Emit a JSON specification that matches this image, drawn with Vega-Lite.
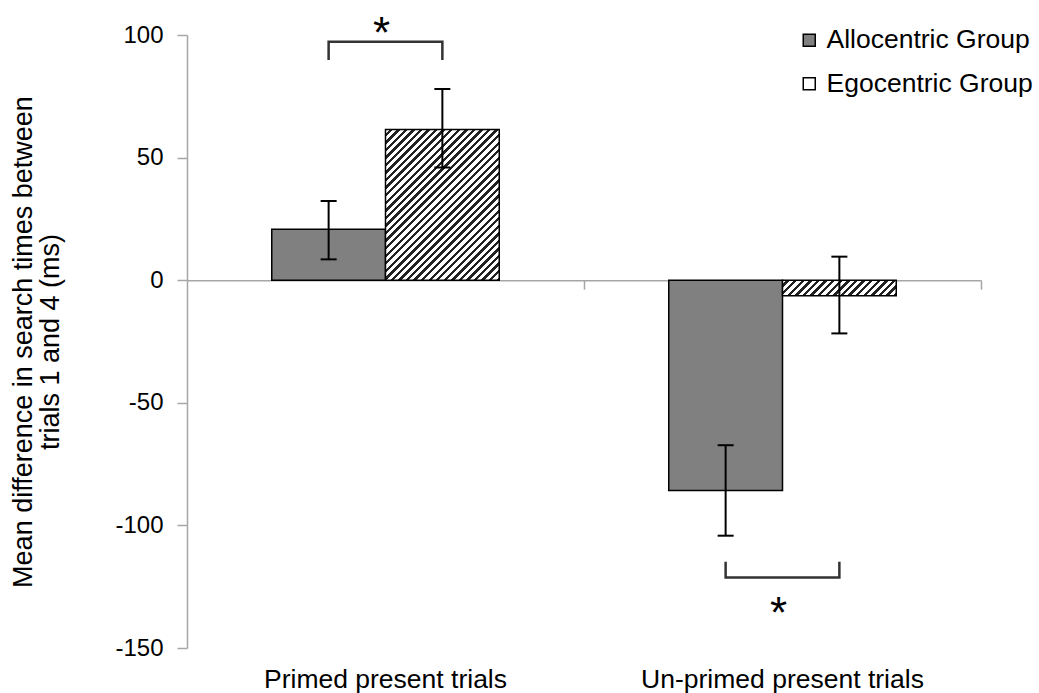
{
 "$schema": "https://vega.github.io/schema/vega-lite/v6.json",
 "width": 794,
 "height": 613,
 "autosize": {"type": "none"},
 "padding": {"left": 187, "top": 35, "right": 58, "bottom": 45},
 "background": "white",
 "config": {
  "view": {"stroke": null},
  "font": "Liberation Sans",
  "axis": {"grid": false, "domainColor": "#a6a6a6", "tickColor": "#a6a6a6", "labelColor": "black", "labelFont": "Liberation Sans", "titleFont": "Liberation Sans", "labelLimit": 0}
 },
 "datasets": {
  "bars": [
   {"cat": "Primed present trials", "group": "Allocentric Group", "mean": 20.8, "lo": 8.5, "hi": 32.3},
   {"cat": "Primed present trials", "group": "Egocentric Group", "mean": 61.5, "lo": 46.0, "hi": 78.0},
   {"cat": "Un-primed present trials", "group": "Allocentric Group", "mean": -85.8, "lo": -104.2, "hi": -67.3},
   {"cat": "Un-primed present trials", "group": "Egocentric Group", "mean": -6.3, "lo": -21.7, "hi": 9.6}
  ],
  "brackets": [
   {"cat": "Primed present trials", "group": "Allocentric Group", "value": 89.8, "order": 1},
   {"cat": "Primed present trials", "group": "Allocentric Group", "value": 97.2, "order": 2},
   {"cat": "Primed present trials", "group": "Egocentric Group", "value": 97.2, "order": 3},
   {"cat": "Primed present trials", "group": "Egocentric Group", "value": 89.8, "order": 4},
   {"cat": "Un-primed present trials", "group": "Allocentric Group", "value": -114.8, "order": 1},
   {"cat": "Un-primed present trials", "group": "Allocentric Group", "value": -121.2, "order": 2},
   {"cat": "Un-primed present trials", "group": "Egocentric Group", "value": -121.2, "order": 3},
   {"cat": "Un-primed present trials", "group": "Egocentric Group", "value": -114.8, "order": 4}
  ],
  "stars": [
   {"cat": "Primed present trials", "value": 104.8, "label": "*"},
   {"cat": "Un-primed present trials", "value": -131.8, "label": "*"}
  ]
 },
 "layer": [
  {
   "data": {"name": "bars"},
   "transform": [{"filter": "datum.group == 'Allocentric Group'"}],
   "mark": {"type": "bar", "stroke": "black", "strokeWidth": 1.5},
   "encoding": {
    "x": {"field": "cat", "type": "nominal",
     "scale": {"domain": ["Primed present trials", "Un-primed present trials"], "paddingInner": 0.427, "paddingOuter": 0.2135},
     "axis": {"orient": "bottom", "offset": -367.8, "labels": false, "title": null, "bandPosition": 1, "tickOffset": 84.75, "tickSize": 9, "domainWidth": 1.5, "tickWidth": 1.5}},
    "xOffset": {"field": "group", "type": "nominal", "scale": {"domain": ["Allocentric Group", "Egocentric Group"]}},
    "y": {"field": "mean", "type": "quantitative",
     "scale": {"domain": [-150, 100], "nice": false},
     "axis": {"orient": "left", "values": [-150, -100, -50, 0, 50, 100], "labelExpr": "toString(datum.value)", "tickSize": 10, "labelFontSize": 24, "labelPadding": 14, "domainWidth": 1.5, "tickWidth": 1.5,
      "title": ["Mean difference in search times between", "trials 1 and 4 (ms)"], "titleFontSize": 27, "titleFontWeight": "normal", "titleColor": "black", "titleLineHeight": 27, "titlePadding": 50}},
    "fill": {"field": "group", "type": "nominal",
     "scale": {"domain": ["Allocentric Group", "Egocentric Group"], "range": ["#808080", "#ffffff"]},
     "legend": {"title": null, "orient": "none", "legendX": 609, "legendY": -8, "symbolType": "square", "symbolSize": 144, "symbolStrokeColor": "black", "symbolStrokeWidth": 1.5, "labelFontSize": 26.5, "labelColor": "black", "labelFont": "Liberation Sans", "labelOffset": 4, "labelLimit": 0, "rowPadding": 16.5, "padding": 0,
      "encode": {"symbols": {"update": {
       "stroke": {"value": "black"},
       "strokeWidth": {"value": 1.5},
       "fill": {"signal": "datum.value === 'Egocentric Group' ? {gradient: 'linear', x1: 0, y1: 0, x2: 1, y2: 1, stops: [{offset: 0, color: '#fff'}, {offset: 0.38, color: '#fff'}, {offset: 0.38, color: '#222'}, {offset: 0.62, color: '#222'}, {offset: 0.62, color: '#fff'}, {offset: 1, color: '#fff'}]} : '#808080'"}}}}}}
   }
  },
  {
   "data": {"name": "bars"},
   "transform": [{"filter": "datum.group == 'Egocentric Group' && datum.cat == 'Primed present trials'"}],
   "mark": {"type": "bar", "stroke": "black", "strokeWidth": 1.5,
    "fill": {"gradient": "linear", "x1": 0, "y1": 0, "x2": 0.8434, "y2": 1.1182, "stops": [
     {"offset":0,"color":"#fff"},{"offset":0.0157,"color":"#fff"},{"offset":0.0157,"color":"#222"},{"offset":0.0286,"color":"#222"},
     {"offset":0.0286,"color":"#fff"},{"offset":0.0443,"color":"#fff"},{"offset":0.0443,"color":"#222"},{"offset":0.0571,"color":"#222"},
     {"offset":0.0571,"color":"#fff"},{"offset":0.0729,"color":"#fff"},{"offset":0.0729,"color":"#222"},{"offset":0.0857,"color":"#222"},
     {"offset":0.0857,"color":"#fff"},{"offset":0.1014,"color":"#fff"},{"offset":0.1014,"color":"#222"},{"offset":0.1143,"color":"#222"},
     {"offset":0.1143,"color":"#fff"},{"offset":0.13,"color":"#fff"},{"offset":0.13,"color":"#222"},{"offset":0.1429,"color":"#222"},
     {"offset":0.1429,"color":"#fff"},{"offset":0.1586,"color":"#fff"},{"offset":0.1586,"color":"#222"},{"offset":0.1714,"color":"#222"},
     {"offset":0.1714,"color":"#fff"},{"offset":0.1871,"color":"#fff"},{"offset":0.1871,"color":"#222"},{"offset":0.2,"color":"#222"},
     {"offset":0.2,"color":"#fff"},{"offset":0.2157,"color":"#fff"},{"offset":0.2157,"color":"#222"},{"offset":0.2286,"color":"#222"},
     {"offset":0.2286,"color":"#fff"},{"offset":0.2443,"color":"#fff"},{"offset":0.2443,"color":"#222"},{"offset":0.2571,"color":"#222"},
     {"offset":0.2571,"color":"#fff"},{"offset":0.2729,"color":"#fff"},{"offset":0.2729,"color":"#222"},{"offset":0.2857,"color":"#222"},
     {"offset":0.2857,"color":"#fff"},{"offset":0.3014,"color":"#fff"},{"offset":0.3014,"color":"#222"},{"offset":0.3143,"color":"#222"},
     {"offset":0.3143,"color":"#fff"},{"offset":0.33,"color":"#fff"},{"offset":0.33,"color":"#222"},{"offset":0.3429,"color":"#222"},
     {"offset":0.3429,"color":"#fff"},{"offset":0.3586,"color":"#fff"},{"offset":0.3586,"color":"#222"},{"offset":0.3714,"color":"#222"},
     {"offset":0.3714,"color":"#fff"},{"offset":0.3871,"color":"#fff"},{"offset":0.3871,"color":"#222"},{"offset":0.4,"color":"#222"},
     {"offset":0.4,"color":"#fff"},{"offset":0.4157,"color":"#fff"},{"offset":0.4157,"color":"#222"},{"offset":0.4286,"color":"#222"},
     {"offset":0.4286,"color":"#fff"},{"offset":0.4443,"color":"#fff"},{"offset":0.4443,"color":"#222"},{"offset":0.4571,"color":"#222"},
     {"offset":0.4571,"color":"#fff"},{"offset":0.4729,"color":"#fff"},{"offset":0.4729,"color":"#222"},{"offset":0.4857,"color":"#222"},
     {"offset":0.4857,"color":"#fff"},{"offset":0.5014,"color":"#fff"},{"offset":0.5014,"color":"#222"},{"offset":0.5143,"color":"#222"},
     {"offset":0.5143,"color":"#fff"},{"offset":0.53,"color":"#fff"},{"offset":0.53,"color":"#222"},{"offset":0.5429,"color":"#222"},
     {"offset":0.5429,"color":"#fff"},{"offset":0.5586,"color":"#fff"},{"offset":0.5586,"color":"#222"},{"offset":0.5714,"color":"#222"},
     {"offset":0.5714,"color":"#fff"},{"offset":0.5871,"color":"#fff"},{"offset":0.5871,"color":"#222"},{"offset":0.6,"color":"#222"},
     {"offset":0.6,"color":"#fff"},{"offset":0.6157,"color":"#fff"},{"offset":0.6157,"color":"#222"},{"offset":0.6286,"color":"#222"},
     {"offset":0.6286,"color":"#fff"},{"offset":0.6443,"color":"#fff"},{"offset":0.6443,"color":"#222"},{"offset":0.6571,"color":"#222"},
     {"offset":0.6571,"color":"#fff"},{"offset":0.6729,"color":"#fff"},{"offset":0.6729,"color":"#222"},{"offset":0.6857,"color":"#222"},
     {"offset":0.6857,"color":"#fff"},{"offset":0.7014,"color":"#fff"},{"offset":0.7014,"color":"#222"},{"offset":0.7143,"color":"#222"},
     {"offset":0.7143,"color":"#fff"},{"offset":0.73,"color":"#fff"},{"offset":0.73,"color":"#222"},{"offset":0.7429,"color":"#222"},
     {"offset":0.7429,"color":"#fff"},{"offset":0.7586,"color":"#fff"},{"offset":0.7586,"color":"#222"},{"offset":0.7714,"color":"#222"},
     {"offset":0.7714,"color":"#fff"},{"offset":0.7871,"color":"#fff"},{"offset":0.7871,"color":"#222"},{"offset":0.8,"color":"#222"},
     {"offset":0.8,"color":"#fff"},{"offset":0.8157,"color":"#fff"},{"offset":0.8157,"color":"#222"},{"offset":0.8286,"color":"#222"},
     {"offset":0.8286,"color":"#fff"},{"offset":0.8443,"color":"#fff"},{"offset":0.8443,"color":"#222"},{"offset":0.8571,"color":"#222"},
     {"offset":0.8571,"color":"#fff"},{"offset":0.8729,"color":"#fff"},{"offset":0.8729,"color":"#222"},{"offset":0.8857,"color":"#222"},
     {"offset":0.8857,"color":"#fff"},{"offset":0.9014,"color":"#fff"},{"offset":0.9014,"color":"#222"},{"offset":0.9143,"color":"#222"},
     {"offset":0.9143,"color":"#fff"},{"offset":0.93,"color":"#fff"},{"offset":0.93,"color":"#222"},{"offset":0.9429,"color":"#222"},
     {"offset":0.9429,"color":"#fff"},{"offset":0.9586,"color":"#fff"},{"offset":0.9586,"color":"#222"},{"offset":0.9714,"color":"#222"},
     {"offset":0.9714,"color":"#fff"},{"offset":0.9871,"color":"#fff"},{"offset":0.9871,"color":"#222"},{"offset":1,"color":"#222"}
    ]}},
   "encoding": {
    "x": {"field": "cat", "type": "nominal", "axis": null},
    "xOffset": {"field": "group", "type": "nominal"},
    "y": {"field": "mean", "type": "quantitative"}
   }
  },
  {
   "data": {"name": "bars"},
   "transform": [{"filter": "datum.group == 'Egocentric Group' && datum.cat == 'Un-primed present trials'"}],
   "mark": {"type": "bar", "stroke": "black", "strokeWidth": 1.5,
    "fill": {"gradient": "linear", "x1": 0, "y1": 0, "x2": 1.1152, "y2": 0.1515, "stops": [
     {"offset":0,"color":"#fff"},{"offset":0.0324,"color":"#fff"},{"offset":0.0324,"color":"#222"},{"offset":0.0588,"color":"#222"},
     {"offset":0.0588,"color":"#fff"},{"offset":0.0912,"color":"#fff"},{"offset":0.0912,"color":"#222"},{"offset":0.1176,"color":"#222"},
     {"offset":0.1176,"color":"#fff"},{"offset":0.15,"color":"#fff"},{"offset":0.15,"color":"#222"},{"offset":0.1765,"color":"#222"},
     {"offset":0.1765,"color":"#fff"},{"offset":0.2088,"color":"#fff"},{"offset":0.2088,"color":"#222"},{"offset":0.2353,"color":"#222"},
     {"offset":0.2353,"color":"#fff"},{"offset":0.2676,"color":"#fff"},{"offset":0.2676,"color":"#222"},{"offset":0.2941,"color":"#222"},
     {"offset":0.2941,"color":"#fff"},{"offset":0.3265,"color":"#fff"},{"offset":0.3265,"color":"#222"},{"offset":0.3529,"color":"#222"},
     {"offset":0.3529,"color":"#fff"},{"offset":0.3853,"color":"#fff"},{"offset":0.3853,"color":"#222"},{"offset":0.4118,"color":"#222"},
     {"offset":0.4118,"color":"#fff"},{"offset":0.4441,"color":"#fff"},{"offset":0.4441,"color":"#222"},{"offset":0.4706,"color":"#222"},
     {"offset":0.4706,"color":"#fff"},{"offset":0.5029,"color":"#fff"},{"offset":0.5029,"color":"#222"},{"offset":0.5294,"color":"#222"},
     {"offset":0.5294,"color":"#fff"},{"offset":0.5618,"color":"#fff"},{"offset":0.5618,"color":"#222"},{"offset":0.5882,"color":"#222"},
     {"offset":0.5882,"color":"#fff"},{"offset":0.6206,"color":"#fff"},{"offset":0.6206,"color":"#222"},{"offset":0.6471,"color":"#222"},
     {"offset":0.6471,"color":"#fff"},{"offset":0.6794,"color":"#fff"},{"offset":0.6794,"color":"#222"},{"offset":0.7059,"color":"#222"},
     {"offset":0.7059,"color":"#fff"},{"offset":0.7382,"color":"#fff"},{"offset":0.7382,"color":"#222"},{"offset":0.7647,"color":"#222"},
     {"offset":0.7647,"color":"#fff"},{"offset":0.7971,"color":"#fff"},{"offset":0.7971,"color":"#222"},{"offset":0.8235,"color":"#222"},
     {"offset":0.8235,"color":"#fff"},{"offset":0.8559,"color":"#fff"},{"offset":0.8559,"color":"#222"},{"offset":0.8824,"color":"#222"},
     {"offset":0.8824,"color":"#fff"},{"offset":0.9147,"color":"#fff"},{"offset":0.9147,"color":"#222"},{"offset":0.9412,"color":"#222"},
     {"offset":0.9412,"color":"#fff"},{"offset":0.9735,"color":"#fff"},{"offset":0.9735,"color":"#222"},{"offset":1,"color":"#222"}
    ]}},
   "encoding": {
    "x": {"field": "cat", "type": "nominal", "axis": null},
    "xOffset": {"field": "group", "type": "nominal"},
    "y": {"field": "mean", "type": "quantitative"}
   }
  },
  {
   "data": {"name": "bars"},
   "mark": {"type": "rule", "color": "black", "strokeWidth": 2},
   "encoding": {
    "x": {"field": "cat", "type": "nominal", "axis": {"orient": "bottom", "title": null, "domain": false, "ticks": false, "tickSize": 0, "labelFontSize": 26.5, "labelPadding": 18, "labelAngle": 0, "labelColor": "black", "labelLimit": 0}},
    "xOffset": {"field": "group", "type": "nominal"},
    "y": {"field": "lo", "type": "quantitative"},
    "y2": {"field": "hi"}
   }
  },
  {
   "data": {"name": "bars"},
   "mark": {"type": "tick", "color": "black", "thickness": 2, "size": 16, "opacity": 1},
   "encoding": {
    "x": {"field": "cat", "type": "nominal", "axis": null},
    "xOffset": {"field": "group", "type": "nominal"},
    "y": {"field": "lo", "type": "quantitative"}
   }
  },
  {
   "data": {"name": "bars"},
   "mark": {"type": "tick", "color": "black", "thickness": 2, "size": 16, "opacity": 1},
   "encoding": {
    "x": {"field": "cat", "type": "nominal", "axis": null},
    "xOffset": {"field": "group", "type": "nominal"},
    "y": {"field": "hi", "type": "quantitative"}
   }
  },
  {
   "data": {"name": "brackets"},
   "mark": {"type": "line", "color": "#333333", "strokeWidth": 2.5, "strokeJoin": "miter"},
   "encoding": {
    "x": {"field": "cat", "type": "nominal", "axis": null},
    "xOffset": {"field": "group", "type": "nominal"},
    "y": {"field": "value", "type": "quantitative"},
    "detail": {"field": "cat"},
    "order": {"field": "order", "type": "quantitative"}
   }
  },
  {
   "data": {"name": "stars"},
   "mark": {"type": "text", "fontSize": 44, "dy": 25, "dx": -4, "baseline": "alphabetic", "color": "black", "font": "Liberation Sans"},
   "encoding": {
    "x": {"field": "cat", "type": "nominal", "axis": null},
    "y": {"field": "value", "type": "quantitative"},
    "text": {"field": "label"}
   }
  }
 ],
 "resolve": {"axis": {"x": "independent"}}
}
